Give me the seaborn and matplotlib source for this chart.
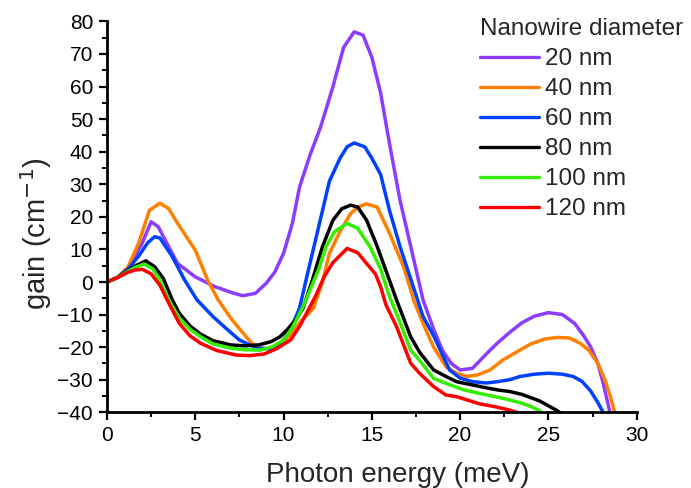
#!/usr/bin/env python3

import pandas as pd
import matplotlib
matplotlib.use("Agg")
import matplotlib.pyplot as plt
import seaborn as sns
from matplotlib.ticker import MultipleLocator

sns.set_style("ticks")
plt.rcParams['font.family'] = ['Liberation Sans', 'DejaVu Sans']

# Gain curves, one (x, y) pair of lists per wire diameter
x_20nm = [0, 0.6, 1.2, 1.6, 2.0, 2.5, 2.9, 3.5, 4.0, 5.0, 6.1, 7.2, 7.7, 8.4, 9.0, 9.5,
          10.0, 10.5, 10.9, 11.5, 12.1, 12.8, 13.4, 14.0, 14.5, 15.0, 15.5, 16.0, 16.6,
          17.2, 17.9, 18.5, 19.0, 19.5, 20.0, 20.7, 21.5, 22.1, 22.8, 23.5, 24.2, 25.0,
          25.8, 26.5, 27.0, 27.4, 27.8, 28.1, 28.4, 28.6]
y_20nm = [0, 1.4, 4.5, 8, 12, 18.5, 17, 10.8, 5.7, 1.6, -1.4, -3.5, -4.2, -3.5, -0.5, 3,
          8.8, 18, 29, 39, 47.6, 60, 72, 76.8, 75.8, 69, 58, 42.5, 25, 11, -5.5, -14.5,
          -21, -25, -27, -26.5, -22, -18.8, -15.5, -12.5, -10.5, -9.4, -10, -12.8, -16.5,
          -20, -25, -31, -38, -43]

x_40nm = [0, 0.6, 1.2, 1.8, 2.4, 3.0, 3.5, 4.0, 5.0, 5.7, 6.3, 7.0, 7.6, 8.2, 8.7, 9.3,
          9.9, 10.5, 11.0, 11.7, 12.2, 12.6, 13.2, 13.8, 14.2, 14.7, 15.3, 16.0, 16.4,
          16.8, 17.4, 17.9, 18.5, 19.2, 19.8, 20.4, 21.0, 21.7, 22.4, 23.2, 24.0, 24.8,
          25.5, 26.2, 26.8, 27.3, 27.8, 28.2, 28.5, 28.8]
y_40nm = [0, 1.4, 4.7, 12, 22, 24.2, 22.5, 18, 9.8, 0.6, -5.5, -11, -15, -18.8, -20.3,
          -20.5, -19, -15.5, -12, -8, 0, 8.8, 15.5, 21, 23, 24, 23, 15, 9.8, 4.7, -6,
          -12.7, -20, -26, -28, -29, -28.5, -27, -24, -21.5, -19, -17.5, -17, -17.2,
          -18.8, -21, -25, -30, -35, -41]

x_60nm = [0, 0.6, 1.2, 1.8, 2.3, 2.7, 3.0, 3.7, 4.4, 5.1, 6.0, 6.8, 7.5, 8.5, 9.2, 9.8,
          10.4, 10.9, 11.4, 11.9, 12.6, 13.2, 13.6, 14.0, 14.6, 15.0, 15.5, 16.0, 16.6,
          17.2, 17.9, 18.5, 19.4, 20.0, 20.7, 21.5, 22.1, 22.8, 23.4, 24.2, 25.0, 25.8,
          26.4, 26.9, 27.4, 27.8, 28.1, 28.3]
y_60nm = [0, 1.4, 4, 8, 12, 13.9, 13.5, 7.8, 0.6, -5.5, -10.6, -14.5, -17.8, -20.3,
          -20.5, -19.3, -14.5, -8.1, 3.5, 14.9, 31, 38, 41.5, 42.7, 41.5, 38, 33, 22,
          10.8, 1, -10.6, -16.5, -27, -29.5, -30.6, -31, -30.6, -30, -29, -28.3, -28,
          -28.3, -29, -30.5, -33.5, -37, -40, -43]

x_80nm = [0, 0.6, 1.2, 1.7, 2.2, 2.7, 3.2, 3.7, 4.1, 4.7, 5.3, 6.0, 7.0, 7.8, 8.6, 9.3,
          9.8, 10.2, 10.7, 11.1, 11.6, 12.2, 12.8, 13.3, 13.8, 14.2, 14.7, 15.3, 15.8,
          16.4, 17.2, 17.7, 18.5, 19.2, 19.8, 20.7, 21.5, 22.2, 22.8, 23.5, 24.0, 24.5,
          25.0, 25.5, 26.0]
y_80nm = [0, 1.4, 3.5, 5.2, 6.5, 4.7, 1, -5.5, -9.6, -13.5, -16, -18, -19.3, -19.6,
          -19.3, -18.3, -16.8, -14.7, -11.5, -8.1, 0, 10.8, 19, 22.5, 23.6, 23, 19, 11,
          3.5, -5.5, -16.8, -21.5, -27, -29, -30.6, -31.6, -32.5, -33.2, -33.6, -34.5,
          -35.5, -36.5, -38, -39.5, -41.5]

x_100nm = [0, 0.6, 1.2, 1.6, 2.1, 2.6, 3.0, 3.5, 4.1, 4.7, 5.3, 6.0, 7.0, 7.8, 8.7, 9.4,
           10.0, 10.5, 11.1, 11.5, 12.0, 12.4, 12.9, 13.6, 14.2, 14.9, 15.5, 16.0, 16.5,
           17.2, 17.7, 18.5, 19.2, 20.2, 21.1, 22.0, 22.8, 23.5, 24.0, 24.5, 24.8]
y_100nm = [0, 1.4, 3.3, 4.5, 5.5, 4, 0.5, -5.5, -11.1, -14.5, -16.8, -19, -20.3, -20.8,
           -20.9, -19.8, -17.8, -14, -7.6, -2.5, 4, 10.8, 15.5, 18, 16.5, 10.8, 4, -4.5,
           -11, -20.9, -24, -29.6, -31.1, -33.1, -34.2, -35.2, -36.2, -37.2, -38.2,
           -39.5, -41]

x_120nm = [0, 0.6, 1.2, 1.6, 2.0, 2.5, 3.0, 3.5, 4.1, 4.7, 5.3, 6.2, 7.3, 8.1, 8.9, 9.6,
           10.4, 10.9, 11.3, 11.8, 12.3, 12.8, 13.6, 14.2, 14.7, 15.2, 15.5, 15.8, 16.4,
           17.2, 17.7, 18.5, 19.2, 19.8, 21.1, 22.0, 22.8, 23.3, 23.6]
y_120nm = [0, 1.4, 3, 3.7, 3.9, 2.5, -1, -6.5, -12.7, -16.5, -18.8, -21, -22.4, -22.6,
           -22.1, -20.5, -17.8, -13.7, -9.6, -4.5, 1.6, 6, 10.3, 9, 5.7, 2.5, -1.5, -7,
           -13.7, -24.9, -28, -32.1, -34.7, -35.2, -37.4, -38.3, -39.3, -40.2, -41]

diameters = ['20 nm', '40 nm', '60 nm', '80 nm', '100 nm', '120 nm']
colors = ['#8c3cff', '#ff8000', '#0040ff', '#000000', '#33ee00', '#ff0000']
x_ticks = [0, 5, 10, 15, 20, 25, 30]
y_ticks = [-40, -30, -20, -10, 0, 10, 20, 30, 40, 50, 60, 70, 80]

series = [(x_20nm, y_20nm), (x_40nm, y_40nm), (x_60nm, y_60nm),
          (x_80nm, y_80nm), (x_100nm, y_100nm), (x_120nm, y_120nm)]
frames = []
for label, (xs, ys) in zip(diameters, series):
    frames.append(pd.DataFrame({'energy': xs, 'gain': ys, 'diameter': label}))
df = pd.concat(frames, ignore_index=True)

fig = plt.figure(figsize=(6.91, 4.88), dpi=100)
ax = fig.add_axes([0.1548, 0.1551, 0.7666, 0.801])

sns.lineplot(data=df, x='energy', y='gain', hue='diameter', hue_order=diameters,
             palette=colors, estimator=None, sort=False, linewidth=2.5, ax=ax)

ax.set_xlim(0, 30)
ax.set_ylim(-40, 80)
ax.set_xticks(x_ticks)
ax.set_yticks(y_ticks)
ax.xaxis.set_minor_locator(MultipleLocator(2.5))
ax.yaxis.set_minor_locator(MultipleLocator(5))
ax.tick_params(which='major', direction='out', length=6, width=1.6, labelsize=15,
               color='black', labelcolor='black', pad=4)
ax.tick_params(which='minor', direction='out', length=3.5, width=1.4, color='black')

sns.despine(ax=ax)
for side in ['left', 'bottom']:
    ax.spines[side].set_linewidth(2)
    ax.spines[side].set_color('black')

ax.set_xlabel('Photon energy (meV)', fontsize=20)
ax.set_ylabel('gain (cm$^{-1}$)', fontsize=21)
ax.xaxis.set_label_coords(0.549, -0.127)
ax.yaxis.set_label_coords(-0.10, 0.457)

leg = ax.legend(title='Nanowire diameter', loc='upper left',
                bbox_to_anchor=(480 / 691, 1 - 18 / 488),
                bbox_transform=fig.transFigure, frameon=False, fontsize=17.5,
                title_fontsize=17.5, handlelength=2.43, handletextpad=0.25,
                labelspacing=0.33, borderpad=0, borderaxespad=0, alignment='left')
for line in leg.get_lines():
    line.set_linewidth(2.4)

fig.savefig('out.png', dpi=100)
